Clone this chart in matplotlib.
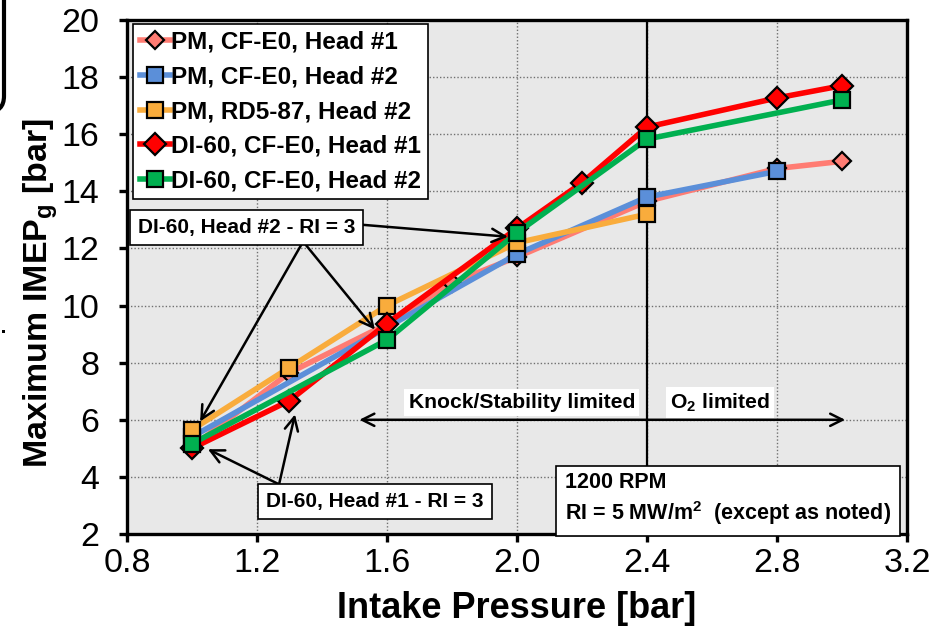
import matplotlib
matplotlib.use('Agg')
import matplotlib.pyplot as plt
from matplotlib.patches import FancyBboxPatch, Rectangle

plt.rcParams['font.family'] = ['Liberation Sans', 'DejaVu Sans']
plt.rcParams['mathtext.fontset'] = 'custom'
plt.rcParams['mathtext.rm'] = 'Liberation Sans'
plt.rcParams['mathtext.bf'] = 'Liberation Sans:bold'
plt.rcParams['mathtext.it'] = 'Liberation Sans:italic'

# ---- data ----
pm_h1_x = [1.0, 1.3, 1.6, 1.8, 2.0, 2.4, 2.8, 3.0]
pm_h1_y = [5.05, 7.65, 9.35, 10.8, 11.7, 13.65, 14.8, 15.05]

pm_h2_x = [1.0, 2.0, 2.4, 2.8]
pm_h2_y = [5.4, 11.8, 13.8, 14.7]

rd_h2_x = [1.0, 1.3, 1.6, 2.0, 2.4]
rd_h2_y = [5.65, 7.83, 10.0, 12.2, 13.2]

di_h1_x = [1.0, 1.3, 1.6, 2.0, 2.2, 2.4, 2.8, 3.0]
di_h1_y = [5.0, 6.67, 9.37, 12.7, 14.3, 16.25, 17.27, 17.7]

di_h2_x = [1.0, 1.6, 2.0, 2.4, 3.0]
di_h2_y = [5.16, 8.8, 12.55, 15.83, 17.2]

labels = ["PM, CF-E0, Head #1", "PM, CF-E0, Head #2", "PM, RD5-87, Head #2",
          "DI-60, CF-E0, Head #1", "DI-60, CF-E0, Head #2"]
colors = ["#FF7C73", "#5B8FD9", "#F9AC3C", "#FF0000", "#00B050"]
markers = ["D", "s", "s", "D", "s"]
msizes = [9, 11, 11, 11.5, 11]

xticks = [0.8, 1.2, 1.6, 2.0, 2.4, 2.8, 3.2]
yticks = [2, 4, 6, 8, 10, 12, 14, 16, 18, 20]

series = [(pm_h1_x, pm_h1_y), (pm_h2_x, pm_h2_y), (rd_h2_x, rd_h2_y),
          (di_h1_x, di_h1_y), (di_h2_x, di_h2_y)]

fig = plt.figure(figsize=(9.35, 6.27), dpi=100)
ax = fig.add_axes([0.1358, 0.1483, 0.8342, 0.8198])
ax.set_facecolor('#E8E8E8')

ax.set_xlim(0.8, 3.2)
ax.set_ylim(2, 20)
ax.set_xticks(xticks)
ax.set_xticklabels([f"{v:.1f}" for v in xticks])
ax.set_yticks(yticks)
ax.grid(True, linestyle=(0, (1, 1.5)), color='#707070', linewidth=1.0, zorder=0)
ax.set_axisbelow(True)

ax.axvline(2.4, color='black', lw=1.6, zorder=1)

for (xs, ys), lab, c, m, ms in zip(series, labels, colors, markers, msizes):
    ax.plot(xs, ys, color=c, lw=4.0, marker=m, markersize=ms, markerfacecolor=c,
            markeredgecolor='black', markeredgewidth=1.6, label=lab, zorder=3)

for sp in ax.spines.values():
    sp.set_linewidth(2.4)
ax.tick_params(axis='both', which='major', labelsize=24.5, length=6, width=2.4,
               direction='out')
ax.tick_params(axis='x', pad=4)
ax.tick_params(axis='y', pad=14)

ax.set_xlabel('Intake Pressure [bar]', fontsize=26, fontweight='bold', labelpad=9)
ax.set_ylabel(r'Maximum IMEP$_\mathbf{g}$ [bar]', fontsize=24.5, fontweight='bold')
ax.yaxis.set_label_coords(-0.086, 0.47)

leg = ax.legend(loc='upper left', bbox_to_anchor=(0.0077, 0.992), borderaxespad=0,
                fancybox=False, edgecolor='black', framealpha=1,
                prop={'size': 17.5, 'weight': 'bold'}, handlelength=1.25,
                handletextpad=0.05, labelspacing=0.48, borderpad=0.28)
leg.get_frame().set_linewidth(1.2)
leg.set_zorder(10)

txt_kw = dict(fontsize=15, fontweight='bold', zorder=12)
box_kw = dict(boxstyle='square,pad=0.38', fc='white', ec='black', lw=1.2)
arrow_kw = dict(arrowstyle='->', color='black', lw=1.8, mutation_scale=24,
                shrinkA=0, shrinkB=0)

# Head #2 annotation
ax.text(1.169, 12.73, 'DI-60, Head #2 - RI = 3', ha='center', va='center',
        bbox=box_kw, **txt_kw)
ax.annotate('', xy=(1.025, 5.94), xytext=(1.342, 12.24), arrowprops=arrow_kw, zorder=11)
ax.annotate('', xy=(1.563, 9.16), xytext=(1.342, 12.24), arrowprops=arrow_kw, zorder=11)
ax.annotate('', xy=(1.972, 12.41), xytext=(1.523, 12.83), arrowprops=arrow_kw, zorder=11)

# Head #1 annotation
ax.text(1.563, 3.15, 'DI-60, Head #1 - RI = 3', ha='center', va='center',
        bbox=box_kw, **txt_kw)
ax.annotate('', xy=(1.049, 4.97), xytext=(1.268, 3.74), arrowprops=arrow_kw, zorder=11)
ax.annotate('', xy=(1.317, 6.19), xytext=(1.268, 3.74), arrowprops=arrow_kw, zorder=11)

# limited regions
ax.annotate('', xy=(1.515, 6.0), xytext=(3.01, 6.0),
            arrowprops=dict(arrowstyle='<->', color='black', lw=1.8,
                            mutation_scale=22, shrinkA=0, shrinkB=0), zorder=5)
wbox = dict(boxstyle='square,pad=0.2', fc='white', ec='none')
ax.text(2.015, 6.6, 'Knock/Stability limited', ha='center', va='center',
        bbox=wbox, fontsize=15.2, fontweight='bold', zorder=6)
ax.text(2.625, 6.6, r'O$_\mathbf{2}$ limited', ha='center', va='center',
        bbox=wbox, fontsize=15.2, fontweight='bold', zorder=6)

ax.text(2.148, 3.2, '1200 RPM\nRI = 5 MW/m$^\\mathbf{2}$  (except as noted)',
        ha='left', va='center', fontsize=15.5, fontweight='bold', linespacing=1.3,
        bbox=dict(boxstyle='square,pad=0.4', fc='white', ec='black', lw=1.2), zorder=12)

# cut-off fragments at the left edge
frag = FancyBboxPatch((-200, 627 - 112), 204, 260,
                      boxstyle='round,pad=0,rounding_size=16',
                      transform=None, lw=3, fc='none', ec='black')
fig.add_artist(frag)
fig.add_artist(Rectangle((2, 627 - 333), 3, 3, transform=None, fc='black', ec='none'))

fig.savefig('out.png', dpi=100)
